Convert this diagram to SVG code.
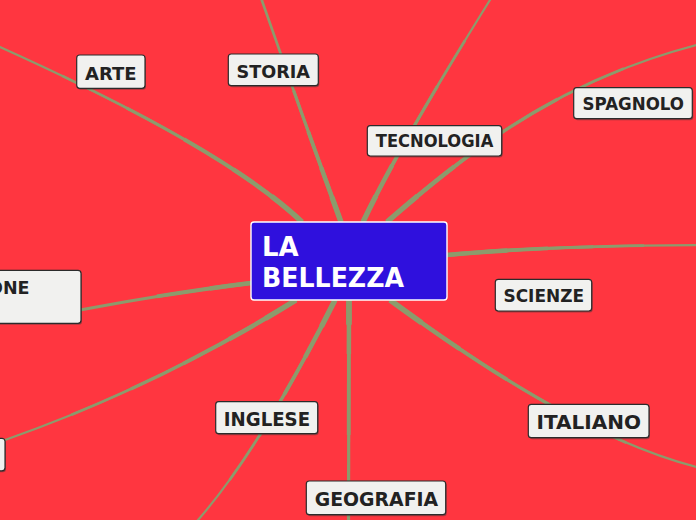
<svg xmlns="http://www.w3.org/2000/svg" xmlns:xlink="http://www.w3.org/1999/xlink" width="696" height="520" viewBox="0 0 696 520">
<style>
.ln{fill:none;stroke:#8C9B6C;stroke-linecap:butt}
.s1{stroke-width:2.2}
.s2{stroke-width:2.7;stroke-dasharray:78 200}
.s3{stroke-width:3.2;stroke-dasharray:58 200}
.s4{stroke-width:3.8;stroke-dasharray:40 200}
.s5{stroke-width:4.5;stroke-dasharray:24 200}
.s6{stroke-width:5.3;stroke-dasharray:11 200}
.box{fill:#F1F1EF;stroke:#2B2B2B;stroke-width:1.2}
.sh{fill:#3a3a3a;opacity:0.45}
.t{font-family:"DejaVu Sans","Liberation Sans",sans-serif;font-weight:bold;fill:#222222}
.ct{font-family:"DejaVu Sans","Liberation Sans",sans-serif;font-weight:bold;fill:#FFFFFF;font-size:26px}
</style>
<defs>
<path id="p-arte" pathLength="100" d="M302,222 Q224,148 0,47 L-10,42.5"/>
<path id="p-storia" pathLength="100" d="M341,222 Q300,110 260,-5"/>
<path id="p-tecno" pathLength="100" d="M363,222 Q399,146 490,0 L496,-10"/>
<path id="p-spagnolo" pathLength="100" d="M387,222 C470,150 560,80 700,44"/>
<path id="p-right" pathLength="100" d="M447,255 Q540,246 700,245"/>
<path id="p-italiano" pathLength="100" d="M390,300 C475,362 590,440 700,468"/>
<path id="p-geo" pathLength="100" d="M349,300 L348.5,525"/>
<path id="p-inglese" pathLength="100" d="M335,300 Q260,449 198,520 L193,526"/>
<path id="p-left1" pathLength="100" d="M251,283 Q170,293 80,310"/>
<path id="p-left2" pathLength="100" d="M296,300 Q156,387 5,440"/>
</defs>
<rect x="0" y="0" width="696" height="520" fill="#FF3640"/>
<g id="connectors" class="ln">
<use xlink:href="#p-arte" class="s1"/><use xlink:href="#p-arte" class="s2"/><use xlink:href="#p-arte" class="s3"/><use xlink:href="#p-arte" class="s4"/><use xlink:href="#p-arte" class="s5"/><use xlink:href="#p-arte" class="s6"/>
<use xlink:href="#p-storia" class="s2" style="stroke-dasharray:none"/><use xlink:href="#p-storia" class="s3"/><use xlink:href="#p-storia" class="s4"/><use xlink:href="#p-storia" class="s5"/><use xlink:href="#p-storia" class="s6"/>
<use xlink:href="#p-tecno" class="s1"/><use xlink:href="#p-tecno" class="s2"/><use xlink:href="#p-tecno" class="s3"/><use xlink:href="#p-tecno" class="s4"/><use xlink:href="#p-tecno" class="s5"/><use xlink:href="#p-tecno" class="s6"/>
<use xlink:href="#p-spagnolo" class="s1"/><use xlink:href="#p-spagnolo" class="s2"/><use xlink:href="#p-spagnolo" class="s3"/><use xlink:href="#p-spagnolo" class="s4"/><use xlink:href="#p-spagnolo" class="s5"/><use xlink:href="#p-spagnolo" class="s6"/>
<use xlink:href="#p-right" class="s1"/><use xlink:href="#p-right" class="s2"/><use xlink:href="#p-right" class="s3"/><use xlink:href="#p-right" class="s4"/><use xlink:href="#p-right" class="s5"/>
<use xlink:href="#p-italiano" class="s1"/><use xlink:href="#p-italiano" class="s2"/><use xlink:href="#p-italiano" class="s3"/><use xlink:href="#p-italiano" class="s4"/><use xlink:href="#p-italiano" class="s5"/><use xlink:href="#p-italiano" class="s6"/>
<use xlink:href="#p-geo" class="s3" style="stroke-dasharray:none"/><use xlink:href="#p-geo" class="s4" style="stroke-dasharray:60 200"/><use xlink:href="#p-geo" class="s5"/><use xlink:href="#p-geo" class="s6" style="stroke-width:5.8"/>
<use xlink:href="#p-inglese" class="s1"/><use xlink:href="#p-inglese" class="s2"/><use xlink:href="#p-inglese" class="s3"/><use xlink:href="#p-inglese" class="s4"/><use xlink:href="#p-inglese" class="s5"/><use xlink:href="#p-inglese" class="s6"/>
<use xlink:href="#p-left1" class="s3" style="stroke-dasharray:none"/><use xlink:href="#p-left1" class="s4" style="stroke-dasharray:55 200"/><use xlink:href="#p-left1" class="s5"/>
<use xlink:href="#p-left2" class="s1"/><use xlink:href="#p-left2" class="s2"/><use xlink:href="#p-left2" class="s3"/><use xlink:href="#p-left2" class="s4"/><use xlink:href="#p-left2" class="s5"/><use xlink:href="#p-left2" class="s6"/>
</g>
<g id="center">
<rect x="251" y="222" width="196" height="78" rx="3" fill="#2F10DD" stroke="#FFFFFF" stroke-width="1.4"/>
<text class="ct" x="262" y="256">LA</text>
<text class="ct" x="262" y="287" textLength="142" lengthAdjust="spacingAndGlyphs">BELLEZZA</text>
</g>
<g id="n-arte">
<rect class="sh" x="77.7" y="56.5" width="68.3" height="33.3" rx="3"/>
<rect class="box" x="76.7" y="55" width="68.3" height="33.3" rx="3"/>
<text class="t" x="85" y="79.5" font-size="18.5" textLength="51.5" lengthAdjust="spacingAndGlyphs">ARTE</text>
</g>
<g id="n-storia">
<rect class="sh" x="229.3" y="55.5" width="90" height="31.7" rx="3"/>
<rect class="box" x="228.3" y="54" width="90" height="31.7" rx="3"/>
<text class="t" x="236.5" y="77.5" font-size="18.5" textLength="73.5" lengthAdjust="spacingAndGlyphs">STORIA</text>
</g>
<g id="n-tecnologia">
<rect class="sh" x="368.3" y="127.2" width="134.4" height="30.3" rx="3"/>
<rect class="box" x="367.3" y="125.7" width="134.4" height="30.3" rx="3"/>
<text class="t" x="375.8" y="147.3" font-size="17.5" textLength="117.5" lengthAdjust="spacingAndGlyphs">TECNOLOGIA</text>
</g>
<g id="n-spagnolo">
<rect class="sh" x="574.7" y="89.2" width="118.6" height="31" rx="3"/>
<rect class="box" x="573.7" y="87.7" width="118.6" height="31" rx="3"/>
<text class="t" x="582.5" y="110.2" font-size="17.5" textLength="101.5" lengthAdjust="spacingAndGlyphs">SPAGNOLO</text>
</g>
<g id="n-scienze">
<rect class="sh" x="496.3" y="280.8" width="96.4" height="31.7" rx="3"/>
<rect class="box" x="495.3" y="279.3" width="96.4" height="31.7" rx="3"/>
<text class="t" x="503.5" y="302.2" font-size="17.5" textLength="80.5" lengthAdjust="spacingAndGlyphs">SCIENZE</text>
</g>
<g id="n-italiano">
<rect class="sh" x="529.3" y="405.8" width="120.7" height="33.4" rx="3"/>
<rect class="box" x="528.3" y="404.3" width="120.7" height="33.4" rx="3"/>
<text class="t" x="536.5" y="428.5" font-size="19.5" textLength="104.5" lengthAdjust="spacingAndGlyphs">ITALIANO</text>
</g>
<g id="n-inglese">
<rect class="sh" x="216.7" y="403.2" width="102" height="32" rx="3"/>
<rect class="box" x="215.7" y="401.7" width="102" height="32" rx="3"/>
<text class="t" x="223.8" y="425.5" font-size="19" textLength="86.3" lengthAdjust="spacingAndGlyphs">INGLESE</text>
</g>
<g id="n-geografia">
<rect class="sh" x="307.3" y="482.5" width="139.4" height="33.7" rx="3"/>
<rect class="box" x="306.3" y="481" width="139.4" height="33.7" rx="3"/>
<text class="t" x="314.8" y="505.5" font-size="19.5" textLength="123.3" lengthAdjust="spacingAndGlyphs">GEOGRAFIA</text>
</g>
<g id="n-left1">
<rect class="sh" x="-9" y="271.8" width="91" height="53" rx="3"/>
<rect class="box" x="-10" y="270.3" width="91" height="53" rx="3"/>
<text class="t" x="-12" y="293.5" font-size="17.5">ONE</text>
</g>
<g id="n-left2">
<rect class="sh" x="-59" y="439.8" width="65" height="32.5" rx="3"/>
<rect class="box" x="-60" y="438.3" width="65" height="32.5" rx="3"/>
</g>
</svg>
